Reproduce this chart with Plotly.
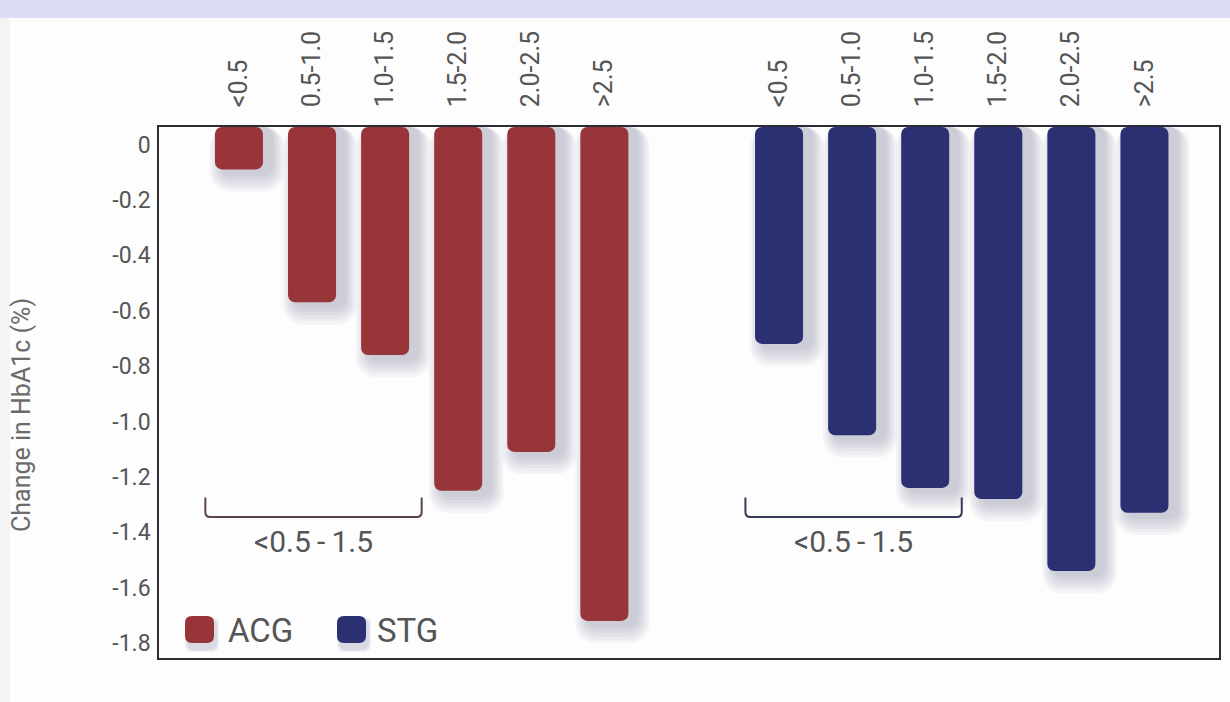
import plotly.graph_objects as go

# HbA1c change by baseline group, two cohorts
categories = ["<0.5", "0.5-1.0", "1.0-1.5", "1.5-2.0", "2.0-2.5", ">2.5"]
acg_change = [-0.09, -0.57, -0.76, -1.25, -1.11, -1.72]
stg_change = [-0.72, -1.05, -1.24, -1.28, -1.54, -1.33]
y_tick_vals = [0, -0.2, -0.4, -0.6, -0.8, -1.0, -1.2, -1.4, -1.6, -1.8]
y_tick_text = ["0", "-0.2", "-0.4", "-0.6", "-0.8", "-1.0", "-1.2", "-1.4", "-1.6", "-1.8"]
bracket_label = "<0.5\u2009-\u20091.5"

ACG_COLOR = "#983539"
STG_COLOR = "#2b3073"
TEXT_COLOR = "#555555"
FONT = "Roboto, Arial, sans-serif"

# figure geometry (pixels)
W, H = 1230, 702
L, R, T, B = 159, 1219, 127, 658

Y_TOP, Y_BOT = 0.063, -1.854
X_LEFT, X_RIGHT = -1.094, 13.41
GROUP_GAP = 2.39
BAR_W = 0.657

acg_x = [float(i) for i in range(len(categories))]
stg_x = [len(categories) - 1 + GROUP_GAP + i for i in range(len(categories))]

px_per_x = (R - L) / (X_RIGHT - X_LEFT)
px_per_y = (B - T) / (Y_TOP - Y_BOT)


def px_to_paper(px, py):
    return (px - L) / (R - L), (B - py) / (B - T)


fig = go.Figure()

# soft drop shadows under each bar
for k in range(1, 7):
    grow = 2 * k * 2.2 / px_per_x
    dx = 8 / px_per_x
    dy = (3 + k * 3.2) / px_per_y
    for xs, vals in ((acg_x, acg_change), (stg_x, stg_change)):
        fig.add_trace(go.Bar(
            x=[x + dx for x in xs],
            y=[v - Y_TOP - dy for v in vals],
            base=Y_TOP,
            width=BAR_W + grow,
            marker=dict(color="rgba(95,95,140,0.06)", cornerradius=8 + 2 * k,
                        line=dict(width=0)),
            hoverinfo="skip", showlegend=False,
        ))

for name, xs, vals, color in (("ACG", acg_x, acg_change, ACG_COLOR),
                              ("STG", stg_x, stg_change, STG_COLOR)):
    fig.add_trace(go.Bar(
        name=name,
        x=xs,
        y=[v - Y_TOP for v in vals],
        base=Y_TOP,
        width=BAR_W,
        customdata=vals,
        hovertemplate=name + " %{customdata:.2f}%<extra></extra>",
        marker=dict(color=color, cornerradius=7, line=dict(width=0)),
        showlegend=False,
    ))

shapes = []

# brackets spanning the first three groups of each cohort
br_top, br_bot = -1.275, -1.345
ry = 5 / px_per_y
rx = 5 / px_per_x
annotations = []
for xs, color in ((acg_x, "#5b4447"), (stg_x, "#353a55")):
    x0 = xs[0] - 0.46
    x1 = xs[2] + 0.5
    path = (f"M {x0},{br_top} L {x0},{br_bot + ry} Q {x0},{br_bot} {x0 + rx},{br_bot} "
            f"L {x1 - rx},{br_bot} Q {x1},{br_bot} {x1},{br_bot + ry} L {x1},{br_top}")
    shapes.append(dict(type="path", path=path, xref="x", yref="y",
                       line=dict(color=color, width=2)))
    annotations.append(dict(x=(x0 + x1) / 2, y=-1.435, xref="x", yref="y",
                            xanchor="center", yanchor="middle",
                            text=bracket_label, showarrow=False,
                            font=dict(family=FONT, size=30, color=TEXT_COLOR)))


def rounded_rect(px0, py0, px1, py1, r):
    pts = []
    x0, y0 = px_to_paper(px0, py0)
    x1, y1 = px_to_paper(px1, py1)
    rxp = r / (R - L)
    ryp = r / (B - T)
    pts.append(f"M {x0 + rxp},{y0}")
    pts.append(f"L {x1 - rxp},{y0} Q {x1},{y0} {x1},{y0 - ryp}")
    pts.append(f"L {x1},{y1 + ryp} Q {x1},{y1} {x1 - rxp},{y1}")
    pts.append(f"L {x0 + rxp},{y1} Q {x0},{y1} {x0},{y1 + ryp}")
    pts.append(f"L {x0},{y0 - ryp} Q {x0},{y0} {x0 + rxp},{y0} Z")
    return " ".join(pts)


# legend swatches with shadows
for (sx, label, color, tx) in ((185, "ACG", ACG_COLOR, 226), (337, "STG", STG_COLOR, 375)):
    for k in range(1, 4):
        shapes.append(dict(type="path", xref="paper", yref="paper",
                           path=rounded_rect(sx + 3 - k, 620 - k, sx + 31 + k, 649 + k, 8),
                           fillcolor="rgba(95,95,140,0.08)", line=dict(width=0)))
    shapes.append(dict(type="path", xref="paper", yref="paper",
                       path=rounded_rect(sx, 616, sx + 29, 643, 7),
                       fillcolor=color, line=dict(width=0)))
    lx, ly = px_to_paper(tx, 630)
    annotations.append(dict(x=lx, y=ly, xref="paper", yref="paper", xanchor="left",
                            yanchor="middle", text=label, showarrow=False,
                            font=dict(family=FONT, size=33, color=TEXT_COLOR)))

# light lavender band along the top edge
bx0, by0 = px_to_paper(0, 0)
bx1, by1 = px_to_paper(W, 18)
shapes.append(dict(type="rect", xref="paper", yref="paper", x0=bx0, x1=bx1, y0=by1, y1=by0,
                   fillcolor="#dcdcf4", line=dict(width=0), layer="below"))
# faint grey strip at the left edge
gx0, gy0 = px_to_paper(0, 18)
gx1, gy1 = px_to_paper(10, H)
shapes.append(dict(type="rect", xref="paper", yref="paper", x0=gx0, x1=gx1, y0=gy1, y1=gy0,
                   fillcolor="#f4f4f4", line=dict(width=0), layer="below"))

# y axis title
tx, ty = px_to_paper(21, 415)
annotations.append(dict(x=tx, y=ty, xref="paper", yref="paper", text="Change in HbA1c (%)",
                        xanchor="center", yanchor="middle",
                        textangle=-90, showarrow=False,
                        font=dict(family=FONT, size=25, color="#6b6b6b")))

fig.update_layout(
    width=W, height=H,
    margin=dict(l=L, r=W - R, t=T, b=H - B, autoexpand=False),
    paper_bgcolor="#fdfdfe",
    plot_bgcolor="#fdfdfe",
    barmode="overlay",
    showlegend=False,
    shapes=shapes,
    annotations=annotations,
    font=dict(family=FONT, color=TEXT_COLOR),
    xaxis=dict(
        range=[X_LEFT, X_RIGHT], side="top",
        tickvals=acg_x + stg_x, ticktext=categories + categories,
        tickangle=-90, ticks="", ticklabelstandoff=13,
        tickfont=dict(family=FONT, size=25, color=TEXT_COLOR),
        showgrid=False, zeroline=False,
        showline=True, mirror=True, linecolor="#2c2c34", linewidth=1.6,
        fixedrange=True,
    ),
    yaxis=dict(
        range=[Y_BOT, Y_TOP],
        tickvals=y_tick_vals, ticktext=y_tick_text,
        ticks="", ticklabelstandoff=2,
        tickfont=dict(family=FONT, size=23, color=TEXT_COLOR),
        showgrid=False, zeroline=False,
        showline=True, mirror=True, linecolor="#2c2c34", linewidth=1.6,
        fixedrange=True,
    ),
)

fig.write_html("out.html")
